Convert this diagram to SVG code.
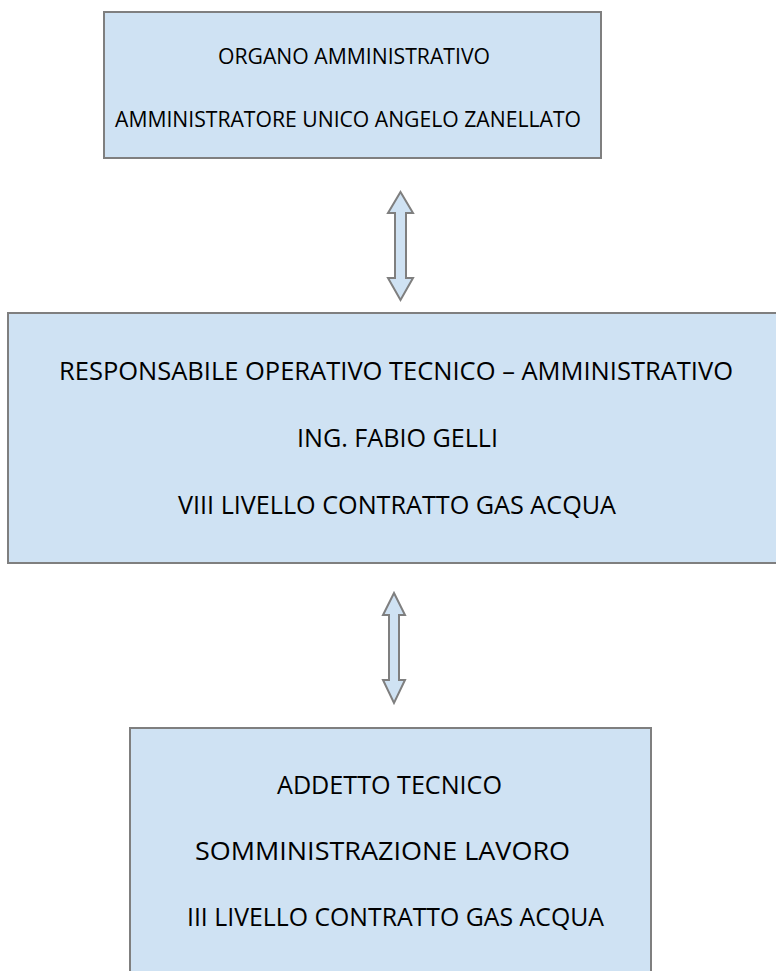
<svg xmlns="http://www.w3.org/2000/svg" width="776" height="971" viewBox="0 0 776 971">
<style>
.box{fill:#cfe2f3;stroke:#7f7f7f;stroke-width:2}
.arr{fill:#cfe2f3;stroke:#7f7f7f;stroke-width:2;stroke-linejoin:miter}
.t1{font-family:"Open Sans","Liberation Sans",sans-serif;font-size:21px;fill:#000;text-anchor:middle}
.t2{font-family:"Open Sans","Liberation Sans",sans-serif;font-size:26px;fill:#000}
</style>
<rect width="776" height="971" fill="#ffffff"/>
<g id="node-organo">
<rect class="box" x="104" y="12" width="497" height="146"/>
<text class="t1" x="354" y="64" textLength="272" lengthAdjust="spacingAndGlyphs">ORGANO AMMINISTRATIVO</text>
<text class="t1" x="348" y="127" textLength="466" lengthAdjust="spacingAndGlyphs">AMMINISTRATORE UNICO ANGELO ZANELLATO</text>
</g>
<g id="node-responsabile">
<rect class="box" x="8" y="313" width="772" height="250"/>
<text class="t2" x="59" y="380" textLength="674" lengthAdjust="spacingAndGlyphs">RESPONSABILE OPERATIVO TECNICO – AMMINISTRATIVO</text>
<text class="t2" x="297" y="447" textLength="201" lengthAdjust="spacingAndGlyphs">ING. FABIO GELLI</text>
<text class="t2" x="178" y="514" textLength="438" lengthAdjust="spacingAndGlyphs">VIII LIVELLO CONTRATTO GAS ACQUA</text>
</g>
<g id="node-addetto">
<rect class="box" x="130" y="728" width="521" height="250"/>
<text class="t2" x="277" y="794" textLength="225" lengthAdjust="spacingAndGlyphs">ADDETTO TECNICO</text>
<text class="t2" x="195" y="860" textLength="375" lengthAdjust="spacingAndGlyphs">SOMMINISTRAZIONE LAVORO</text>
<text class="t2" x="187" y="926" textLength="417" lengthAdjust="spacingAndGlyphs">III LIVELLO CONTRATTO GAS ACQUA</text>
</g>
<g id="connectors">
<polygon class="arr" points="400.5,192 413,213 406,213 406,278 413,278 400.5,300 388,278 395,278 395,213 388,213"/>
<polygon class="arr" points="394,593 405,615 399,615 399,680 405,680 394,703 383,680 389,680 389,615 383,615"/>
</g>
</svg>
